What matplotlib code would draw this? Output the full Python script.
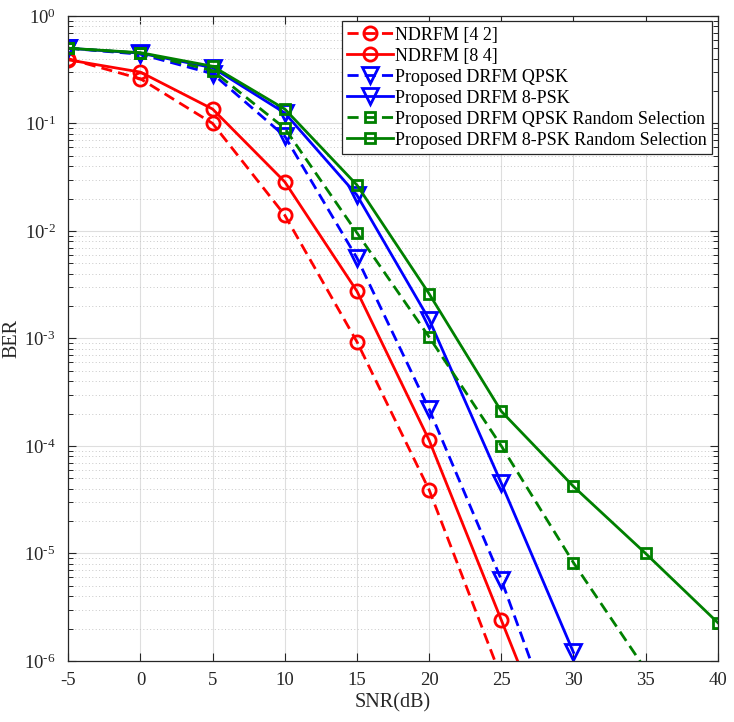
import numpy as np
import matplotlib
matplotlib.use("Agg")
import matplotlib.pyplot as plt
from matplotlib.ticker import FixedLocator, FuncFormatter, NullFormatter

plt.rcParams['font.family'] = ['Liberation Serif', 'DejaVu Serif']
plt.rcParams['mathtext.fontset'] = 'custom'
plt.rcParams['mathtext.rm'] = 'Liberation Serif'
plt.rcParams['mathtext.it'] = 'Liberation Serif:italic'
plt.rcParams['mathtext.default'] = 'rm'

snr = [-5, 0, 5, 10, 15, 20, 25, 30, 35, 40]

ndrfm_42 = [0.40, 0.26, 0.100, 0.0140, 9.3e-4, 3.9e-5, 7.0e-7]
ndrfm_84 = [0.39, 0.30, 0.136, 0.0286, 2.75e-3, 1.13e-4, 2.4e-6, 5.0e-8]
drfm_qpsk = [0.50, 0.44, 0.29, 0.076, 5.6e-3, 2.2e-4, 5.7e-6, 8.0e-8]
drfm_8psk = [0.50, 0.45, 0.33, 0.125, 0.0215, 1.5e-3, 4.5e-5, 1.2e-6]
drfm_qpsk_rs = [0.50, 0.45, 0.31, 0.090, 9.6e-3, 1.03e-3, 1.0e-4, 8.2e-6, 8.3e-7]
drfm_8psk_rs = [0.50, 0.455, 0.34, 0.136, 0.0267, 2.6e-3, 2.1e-4, 4.2e-5, 1.0e-5, 2.27e-6]

labels = ['NDRFM [4 2]', 'NDRFM [8 4]', 'Proposed DRFM QPSK', 'Proposed DRFM 8-PSK',
          'Proposed DRFM QPSK Random Selection', 'Proposed DRFM 8-PSK Random Selection']

ymin, ymax = 1e-6, 1.0
exps = [-6, -5, -4, -3, -2, -1, 0]

fig = plt.figure(figsize=(7.34, 7.22), dpi=100)
ax = fig.add_axes([0.093, 0.0845, 0.885, 0.8935])

dash = (0, (4.0, 2.2))
series = [
    (ndrfm_42, '#ff0000', dash, 'o', 9.5),
    (ndrfm_84, '#ff0000', '-', 'o', 9.5),
    (drfm_qpsk, '#0000ff', dash, 'v', 11),
    (drfm_8psk, '#0000ff', '-', 'v', 11),
    (drfm_qpsk_rs, '#008000', dash, 's', 6.5),
    (drfm_8psk_rs, '#008000', '-', 's', 6.5),
]
for (vals, col, ls, mk, ms), lab in zip(series, labels):
    xs = snr[:len(vals)]
    vis = [i for i, v in enumerate(vals) if v >= ymin * 0.999]
    ax.plot(xs, vals, color=col, linestyle=ls, linewidth=2.0, marker=mk,
            markersize=ms, markerfacecolor='none', markeredgewidth=2.0,
            markevery=vis, label=lab)

ax.set_yscale('log')
ax.set_xlim(-5, 40)
ax.set_ylim(ymin, ymax)
ax.set_xticks(range(-5, 41, 5))
ax.set_xticklabels(['-5', '0', '5', '10', '15', '20', '25', '30', '35', '40'])
major = [10.0 ** e for e in exps]
minor = [m * 10.0 ** e for e in exps[:-1] for m in range(2, 10)]
ax.yaxis.set_major_locator(FixedLocator(major))
ax.yaxis.set_minor_locator(FixedLocator(minor))


def fmt(v, pos):
    e = int(round(np.log10(v)))
    s = '0' if e == 0 else ('\u2010' + str(-e) if e < 0 else str(e))
    return r'$\mathrm{10}^{\mathrm{' + s + '}}$'


ax.yaxis.set_major_formatter(FuncFormatter(fmt))
ax.yaxis.set_minor_formatter(NullFormatter())

axcol = '#262626'
for s in ax.spines.values():
    s.set_color(axcol)
    s.set_linewidth(0.9)
ax.tick_params(which='both', direction='in', top=True, right=True, colors=axcol,
               labelsize=13.5, labelcolor='#262626')
ax.tick_params(which='major', length=6, width=0.8)
ax.tick_params(which='minor', length=3.5, width=0.7)
ax.tick_params(axis='x', pad=8)
ax.tick_params(axis='y', pad=9)

ax.grid(True, which='major', color='#dedede', linewidth=0.8, linestyle='-')
ax.grid(True, which='minor', axis='y', color='#c8c8c8', linewidth=0.7, linestyle=(0, (1, 2.5)))
ax.set_axisbelow(True)

ax.set_xlabel('SNR(dB)', fontsize=14.5, color='#262626', labelpad=3)
ax.set_ylabel('BER', fontsize=14.5, color='#262626', labelpad=2)

leg = ax.legend(loc='upper right', fontsize=13.0, frameon=True, fancybox=False,
                edgecolor='#262626', framealpha=1, borderaxespad=0.3,
                handlelength=2.5, handletextpad=0.15, labelspacing=0.22,
                borderpad=0.3)
leg.get_frame().set_linewidth(0.9)

fig.savefig('out.png', dpi=100)
